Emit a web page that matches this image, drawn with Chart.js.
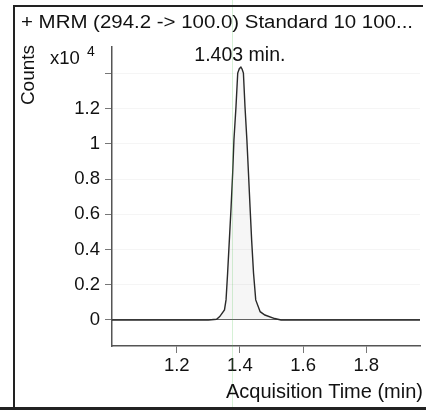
<!DOCTYPE html>
<html>
<head>
<meta charset="utf-8">
<script src="https://cdn.jsdelivr.net/npm/chart.js@4.4.1/dist/chart.umd.min.js"></script>
<style>
  html, body { margin: 0; padding: 0; background: #fff; }
  canvas { display: block; }
</style>
</head>
<body>
<canvas id="cromatograma" width="426" height="410"></canvas>
<script>
// MRM 294.2 -> 100.0, counts in units of x10^4
const tempos = [0.995, 1.300, 1.326, 1.336, 1.351, 1.356, 1.361, 1.3665, 1.372, 1.377, 1.381, 1.3875, 1.393, 1.398, 1.403, 1.407, 1.411, 1.416, 1.422, 1.427, 1.432, 1.437, 1.443, 1.450, 1.464, 1.479, 1.510, 1.530, 1.970];
const contagens = [0, 0, 0.004, 0.019, 0.057, 0.114, 0.267, 0.455, 0.642, 0.835, 1.023, 1.212, 1.403, 1.428, 1.437, 1.425, 1.403, 1.212, 1.023, 0.835, 0.642, 0.455, 0.267, 0.114, 0.047, 0.028, 0.008, 0, 0];

const ticksX = [1.2, 1.4, 1.6, 1.8];
const ticksY = [0, 0.2, 0.4, 0.6, 0.8, 1, 1.2, 1.4];
const rotulosY = ['0', '0.2', '0.4', '0.6', '0.8', '1', '1.2', ''];

const titulo = '+ MRM (294.2 -> 100.0) Standard 10 100...';
const picoTempo = 1.403;
const picoRotulo = '1.403 min.';
const cursorTempo = 1.375;

const fonte = '"Liberation Sans", Arial, sans-serif';
Chart.defaults.font.family = fonte;

const fundoBranco = {
  id: 'fundoBranco',
  beforeDraw(chart) {
    const c = chart.ctx;
    c.save();
    c.fillStyle = '#fff';
    c.fillRect(0, 0, chart.width, chart.height);
    c.restore();
  }
};

const decoracoes = {
  id: 'decoracoes',
  afterDraw(chart) {
    const c = chart.ctx;
    const sx = chart.scales.x;
    c.save();

    // cursor verde
    const xc = Math.round(sx.getPixelForValue(cursorTempo)) + 0.5;
    c.strokeStyle = 'rgba(70, 190, 70, 0.22)';
    c.lineWidth = 1;
    c.beginPath();
    c.moveTo(xc, 0);
    c.lineTo(xc, chart.height);
    c.stroke();

    // moldura
    c.strokeStyle = '#222';
    c.lineWidth = 2;
    c.beginPath();
    c.moveTo(14, chart.height);
    c.lineTo(14, 6);
    c.lineTo(423, 6);
    c.stroke();
    c.lineWidth = 3;
    c.beginPath();
    c.moveTo(0, 408.5);
    c.lineTo(chart.width, 408.5);
    c.stroke();

    c.fillStyle = '#111';
    c.textBaseline = 'alphabetic';

    // titulo esticado na largura da moldura
    c.font = '18px ' + fonte;
    const w = c.measureText(titulo).width;
    c.save();
    c.translate(21, 28);
    c.scale(392 / w, 1);
    c.textAlign = 'left';
    c.fillText(titulo, 0, 0);
    c.restore();

    // eixo y
    c.save();
    c.translate(29, 75);
    c.rotate(-Math.PI / 2);
    c.font = '19px ' + fonte;
    c.textAlign = 'center';
    c.textBaseline = 'middle';
    c.fillText('Counts', 0, 0);
    c.restore();

    c.textAlign = 'left';
    c.font = '18.5px ' + fonte;
    c.fillText('x10', 50, 64);
    c.font = '14px ' + fonte;
    c.fillText('4', 87, 56);

    // rotulo do pico
    c.font = '19.5px ' + fonte;
    c.textAlign = 'center';
    c.fillText(picoRotulo, sx.getPixelForValue(picoTempo) - 1, 61);

    // eixo x
    c.textAlign = 'right';
    c.font = '20px ' + fonte;
    c.fillText('Acquisition Time (min)', 423, 398);

    c.restore();
  }
};

function desenharCromatograma() {
  const ctx = document.getElementById('cromatograma');

  new Chart(ctx, {
    type: 'line',
    data: {
      datasets: [{
        label: 'MRM',
        data: tempos.map((t, i) => ({ x: t, y: contagens[i] })),
        borderColor: '#2a2a2a',
        borderWidth: 1.4,
        backgroundColor: 'rgba(0, 0, 0, 0.035)',
        fill: 'origin',
        pointRadius: 0,
        tension: 0
      }]
    },
    options: {
      responsive: false,
      animation: false,
      layout: { padding: { top: 47, right: 6, left: 0, bottom: 0 } },
      plugins: {
        legend: { display: false },
        tooltip: { enabled: false }
      },
      scales: {
        x: {
          type: 'linear',
          min: 0.995,
          max: 1.97,
          afterBuildTicks: (s) => { s.ticks = ticksX.map(v => ({ value: v })); },
          afterFit: (s) => { s.height = 64; },
          border: { color: '#555', width: 1.5 },
          grid: { drawOnChartArea: false, tickLength: 7, tickColor: '#777' },
          ticks: {
            color: '#111',
            font: { size: 18.5 },
            padding: 2,
            maxRotation: 0,
            autoSkip: false,
            callback: (v) => v.toFixed(1)
          }
        },
        y: {
          min: -0.148,
          max: 1.551,
          afterBuildTicks: (s) => { s.ticks = ticksY.map(v => ({ value: v })); },
          afterFit: (s) => { s.width = 112; },
          border: { color: '#555', width: 1.5 },
          grid: {
            tickLength: 7,
            tickColor: '#777',
            color: (c) => (c.tick && c.tick.value === 0 ? '#666' : 'rgba(0, 0, 0, 0.04)')
          },
          ticks: {
            color: '#111',
            font: { size: 18.5 },
            padding: 5,
            autoSkip: false,
            callback: (v, i) => rotulosY[i]
          }
        }
      }
    },
    plugins: [fundoBranco, decoracoes]
  });
}

desenharCromatograma();
</script>
</body>
</html>
